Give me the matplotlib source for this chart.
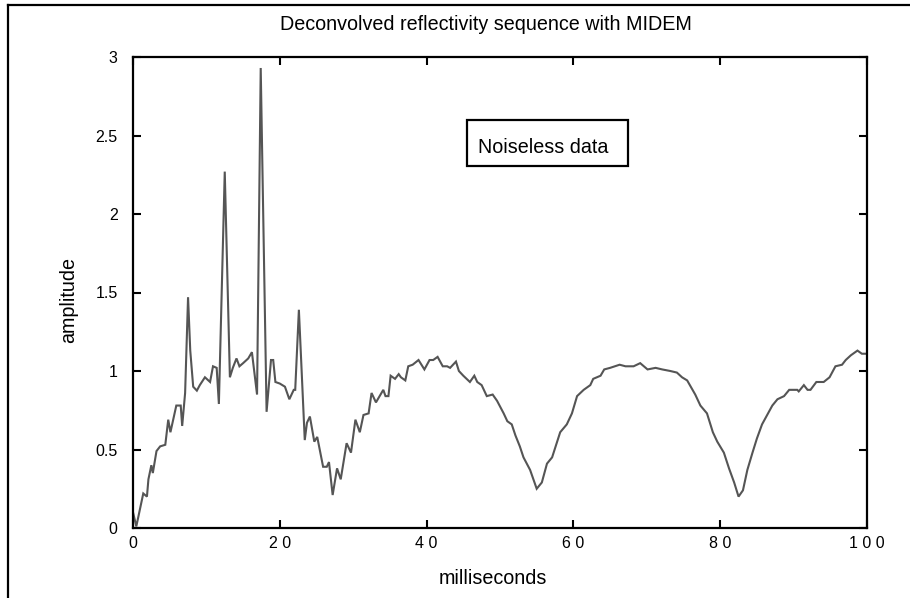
import matplotlib
matplotlib.use("Agg")
import matplotlib.pyplot as plt
from matplotlib import font_manager
from matplotlib.lines import Line2D
from matplotlib.patches import Rectangle

# ---- data ----
time_ms = [0.0, 0.45, 1.4, 1.9, 2.1, 2.5, 2.7, 3.2, 3.7, 4.4, 4.8, 5.1, 5.9, 6.5, 6.7, 7.1,
           7.5, 7.8, 8.2, 8.7, 9.1, 9.8, 10.5, 10.9, 11.4, 11.7, 12.5, 13.2, 13.6, 14.1,
           14.5, 15.0, 15.7, 16.2, 16.9, 17.4, 18.2, 18.8, 19.1, 19.4, 20.0, 20.7, 21.3,
           21.9, 22.1, 22.6, 23.4, 23.7, 24.1, 24.7, 25.1, 25.9, 26.4, 26.7, 27.2, 27.8,
           28.3, 29.1, 29.7, 30.3, 30.9, 31.4, 32.1, 32.5, 33.1, 34.1, 34.4, 34.8, 35.1,
           35.7, 36.2, 36.5, 37.1, 37.5, 38.1, 38.9, 39.7, 40.4, 40.9, 41.5, 42.2, 42.8,
           43.2, 44.0, 44.4, 45.0, 45.9, 46.5, 46.9, 47.5, 48.2, 49.0, 49.6, 50.5, 51.0,
           51.6, 52.1, 52.7, 53.2, 54.1, 55.0, 55.7, 56.4, 57.1, 58.2, 59.1, 59.8, 60.5,
           61.4, 62.3, 62.7, 63.7, 64.2, 65.0, 66.3, 67.1, 68.2, 69.1, 70.1, 71.2, 72.1,
           73.2, 74.1, 74.8, 75.5, 76.6, 77.3, 78.2, 79.0, 79.6, 80.5, 81.2, 81.9, 82.5,
           83.1, 83.7, 84.4, 85.0, 85.7, 86.4, 87.1, 87.8, 88.7, 89.4, 90.5, 90.7, 91.4,
           91.9, 92.3, 93.1, 94.1, 94.9, 95.7, 96.6, 97.1, 97.8, 98.7, 99.3, 100.0]
amplitude = [0.10, 0.01, 0.22, 0.20, 0.31, 0.40, 0.35, 0.49, 0.52, 0.53, 0.69, 0.61, 0.78,
             0.78, 0.65, 0.86, 1.47, 1.13, 0.90, 0.875, 0.91, 0.96, 0.93, 1.03, 1.02, 0.79,
             2.27, 0.96, 1.02, 1.08, 1.03, 1.05, 1.08, 1.12, 0.85, 2.93, 0.74, 1.07, 1.07,
             0.93, 0.92, 0.90, 0.82, 0.88, 0.88, 1.39, 0.56, 0.67, 0.71, 0.55, 0.58, 0.39,
             0.39, 0.42, 0.21, 0.38, 0.31, 0.54, 0.48, 0.69, 0.61, 0.72, 0.73, 0.86, 0.80,
             0.88, 0.84, 0.84, 0.97, 0.95, 0.98, 0.96, 0.94, 1.03, 1.04, 1.07, 1.01, 1.07,
             1.07, 1.09, 1.03, 1.03, 1.02, 1.06, 1.00, 0.97, 0.93, 0.97, 0.93, 0.91, 0.84,
             0.85, 0.81, 0.73, 0.68, 0.66, 0.59, 0.52, 0.45, 0.37, 0.25, 0.29, 0.41, 0.45,
             0.61, 0.66, 0.73, 0.84, 0.88, 0.91, 0.95, 0.97, 1.01, 1.02, 1.04, 1.03, 1.03,
             1.05, 1.01, 1.02, 1.01, 1.00, 0.99, 0.96, 0.94, 0.85, 0.78, 0.73, 0.61, 0.55,
             0.48, 0.38, 0.29, 0.20, 0.24, 0.37, 0.48, 0.57, 0.66, 0.72, 0.78, 0.82, 0.84,
             0.88, 0.88, 0.87, 0.91, 0.88, 0.88, 0.93, 0.93, 0.96, 1.03, 1.04, 1.07, 1.10,
             1.13, 1.11, 1.11]

x_ticks = [0, 20, 40, 60, 80, 100]
x_tick_labels = ["0", "2 0", "4 0", "6 0", "8 0", "1 0 0"]
y_ticks = [0, 0.5, 1, 1.5, 2, 2.5, 3]
y_tick_labels = ["0", "0.5", "1", "1.5", "2", "2.5", "3"]

title_text = "Deconvolved reflectivity sequence with MIDEM"
x_label = "milliseconds"
y_label = "amplitude"
note_text = "Noiseless data"

# ---- fonts ----
names = {f.name for f in font_manager.fontManager.ttflist}
if "Liberation Sans Narrow" in names:
    narrow, big = "Liberation Sans Narrow", 17
else:
    narrow, big = "Liberation Sans", 14.2
regular = "Liberation Sans"

W, H = 910, 598
fig = plt.figure(figsize=(W / 100, H / 100), dpi=100)
fig.patch.set_facecolor("white")

def fx(px):
    return px / W

def fy(py):
    return 1 - py / H

left, right, top, bottom = 133, 867, 57, 528
ax = fig.add_axes([fx(left), fy(bottom), fx(right) - fx(left), fy(top) - fy(bottom)])
ax.plot(time_ms, amplitude, color="#555555", lw=1.5, solid_joinstyle="miter")
ax.set_xlim(0, 100)
ax.set_ylim(0, 3)
ax.set_xticks(x_ticks)
ax.set_xticklabels(x_tick_labels, fontfamily=regular, fontsize=11.5)
ax.set_yticks(y_ticks)
ax.set_yticklabels(y_tick_labels, fontfamily=regular, fontsize=11.5)
ax.tick_params(direction="in", length=5.5, width=1.5, top=True, right=True,
               colors="black")
ax.tick_params(axis="x", pad=6)
ax.tick_params(axis="y", pad=11)
for sp in ax.spines.values():
    sp.set_linewidth(1.6)
    sp.set_color("black")

fig.text(fx(486), fy(30), title_text, ha="center", va="baseline",
         fontfamily=narrow, fontsize=big)
fig.text(fx(493), fy(584), x_label, ha="center", va="baseline",
         fontfamily=narrow, fontsize=big)
fig.text(fx(69), fy(300), y_label, ha="center", va="center", rotation=90,
         fontfamily=narrow, fontsize=big)

# annotation box
fig.patches.append(Rectangle((fx(467), fy(166)), fx(628) - fx(467), fy(120) - fy(166),
                             transform=fig.transFigure, fill=False, lw=1.6,
                             edgecolor="black"))
fig.text(fx(478), fy(153), note_text, ha="left", va="baseline",
         fontfamily=narrow, fontsize=big)

# outer frame lines (left and top)
fig.lines.append(Line2D([fx(8), fx(8)], [fy(5), 0], transform=fig.transFigure,
                        color="black", lw=1.6))
fig.lines.append(Line2D([fx(8), 1], [fy(5), fy(5)], transform=fig.transFigure,
                        color="black", lw=1.6))

fig.savefig("out.png", dpi=100)
